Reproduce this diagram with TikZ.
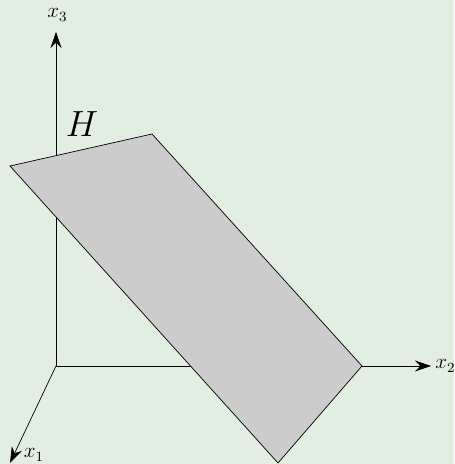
\documentclass[tikz,border=0pt]{standalone}
\usetikzlibrary{positioning, arrows.meta, calc}
\usepackage{xcolor}
\usepackage{amsmath}
\definecolor{fundal}{RGB}{227,238,227}
\definecolor{gri}{RGB}{204,204,204}

\begin{document}
\begin{tikzpicture}[
        axa/.style={-{Stealth[length=3.2mm, width=2.2mm]}},
        plan/.style={draw=black, fill=gri, line join=miter},
        eticheta/.style={inner sep=0pt, font=\large},
    ]
        \fill[fundal] (0,0) rectangle (9.08,9.28);
        \useasboundingbox (0,0) rectangle (9.08,9.28);
        % axele
        \coordinate (O) at (1.12,1.96);
        \coordinate (e1) at (0.2,0.02);
        \coordinate (e2) at (8.62,1.96);
        \coordinate (e3) at (1.12,8.64);
        \draw[axa] (O) -- (e1);
        \draw[axa] (O) -- (e2);
        \draw[axa] (O) -- (e3);
        \node[eticheta] (l1) at (0.68,0.18) {$x_1$};
        \node[eticheta, right=0.8mm of e2] (l2) {$x_2$};
        \node[eticheta] (l3) at (1.15,8.98) {$x_3$};
        % planul H
        \coordinate (A) at (0.2,5.96);
        \coordinate (B) at (3.04,6.6);
        \coordinate (C) at (7.24,1.96);
        \coordinate (D) at (5.56,0.02);
        \draw[plan] (A) -- (B) -- (C) -- (D) -- cycle;
        \node[font=\huge] (h) at (1.64,6.8) {$H$};
    \end{tikzpicture}
\end{document}
